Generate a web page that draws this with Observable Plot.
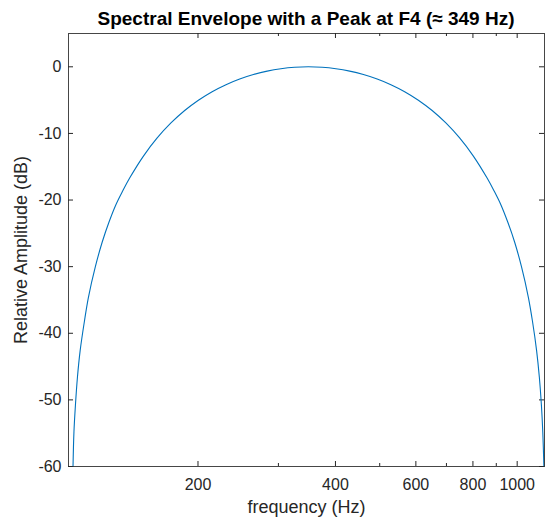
<!DOCTYPE html>
<html><head><meta charset="utf-8">
<script src="https://cdn.jsdelivr.net/npm/d3@7"></script>
<script src="https://cdn.jsdelivr.net/npm/@observablehq/plot@0.6"></script>
<style>
body{margin:0;background:#fff;}
#wrap{position:relative;width:545px;height:518px;font-family:"Liberation Sans",Arial,Helvetica,sans-serif;background:#fff;}
#title{position:absolute;left:68px;width:476px;top:8px;text-align:center;font-weight:bold;font-size:19px;line-height:22px;color:#000;white-space:nowrap;}
#chart{position:absolute;left:0;top:0;}
</style></head><body>
<div id="wrap"><div id="chart"></div><div id="title">Spectral Envelope with a Peak at F4 (≈ 349 Hz)</div></div>
<script>
// Values (frequency in Hz, level in dB)
const frequency = [106.5, 107.0, 107.8, 108.9, 110.4, 112.8, 115.1, 119.2, 123.4, 127.7, 132.2, 136.9, 141.7, 151.9, 162.8, 174.5, 187.0, 200.4, 214.8, 230.3, 246.8, 264.5, 283.5, 303.8, 325.6, 349.0, 374.0, 400.9, 429.7, 460.5, 493.6, 529.0, 567.0, 607.6, 651.3, 698.0, 748.1, 801.8, 859.3, 889.6, 921.0, 953.5, 987.1, 1021.9, 1058.0, 1080.2, 1102.9, 1118.3, 1130.0, 1137.8, 1144.2];
const amplitudeDb = [-60, -54.8, -50.8, -46.6, -42.6, -38.2, -34.6, -30.0, -26.3, -23.3, -20.7, -18.6, -16.7, -13.4, -10.68, -8.43, -6.56, -5.01, -3.73, -2.68, -1.83, -1.16, -0.65, -0.29, -0.07, 0, -0.07, -0.29, -0.65, -1.16, -1.83, -2.68, -3.73, -5.01, -6.56, -8.43, -10.68, -13.4, -16.7, -18.6, -20.7, -23.3, -26.3, -30.0, -34.6, -38.2, -42.6, -46.6, -50.8, -54.8, -60];
const xTickLabels = [200, 400, 600, 800, 1000];
const xMinorTicks = [300, 500, 700, 900];
const yTickLabels = [0, -10, -20, -30, -40, -50, -60];
const xDomain = [104.1, 1147.7];
const yDomain = [-60, 5];

const W = 545, H = 518, mL = 68, mR = 1, mT = 33, mB = 52;
const pw = W - mL - mR, ph = H - mT - mB;
const ink = "#262626";
const data = frequency.map((f, i) => ({f, db: amplitudeDb[i]}));

const plot = Plot.plot({
  width: W, height: H,
  marginLeft: mL, marginRight: mR, marginTop: mT, marginBottom: mB,
  style: {fontFamily: '"Liberation Sans", Arial, Helvetica, sans-serif', fontSize: "16px", color: ink, background: "transparent", overflow: "visible"},
  x: {type: "log", domain: xDomain, axis: null},
  y: {domain: yDomain},
  marks: [
    // x tick labels
    Plot.text(xTickLabels, {x: d => d, text: d => String(d), frameAnchor: "bottom", lineAnchor: "top", textAnchor: "middle", dy: 12, fontSize: 16, fill: ink}),
    Plot.axisY(yTickLabels, {tickSize: 0, tickPadding: 7, tickFormat: d => String(d), label: null, fontSize: 16, fill: ink}),
    // inward ticks on all four sides (box on)
    Plot.tickX(xTickLabels, {x: d => d, insetTop: ph - 5, stroke: ink}),
    Plot.tickX(xTickLabels, {x: d => d, insetBottom: ph - 5, stroke: ink}),
    Plot.tickX(xMinorTicks, {x: d => d, insetTop: ph - 3, stroke: ink}),
    Plot.tickX(xMinorTicks, {x: d => d, insetBottom: ph - 3, stroke: ink}),
    Plot.tickY(yTickLabels, {y: d => d, insetRight: pw - 5, stroke: ink}),
    Plot.tickY(yTickLabels, {y: d => d, insetLeft: pw - 5, stroke: ink}),
    Plot.line(data, {x: "f", y: "db", stroke: "#0072BD", strokeWidth: 1.1, curve: "catmull-rom"}),
    Plot.frame({stroke: ink, strokeOpacity: 0.85}),
    Plot.text(["frequency (Hz)"], {frameAnchor: "bottom", lineAnchor: "middle", textAnchor: "middle", dy: 41, fontSize: 18, fill: ink}),
    Plot.text(["Relative Amplitude (dB)"], {frameAnchor: "left", lineAnchor: "middle", textAnchor: "middle", rotate: -90, dx: -47.5, fontSize: 18, fill: ink})
  ]
});
document.getElementById("chart").appendChild(plot);
</script>
</body></html>
